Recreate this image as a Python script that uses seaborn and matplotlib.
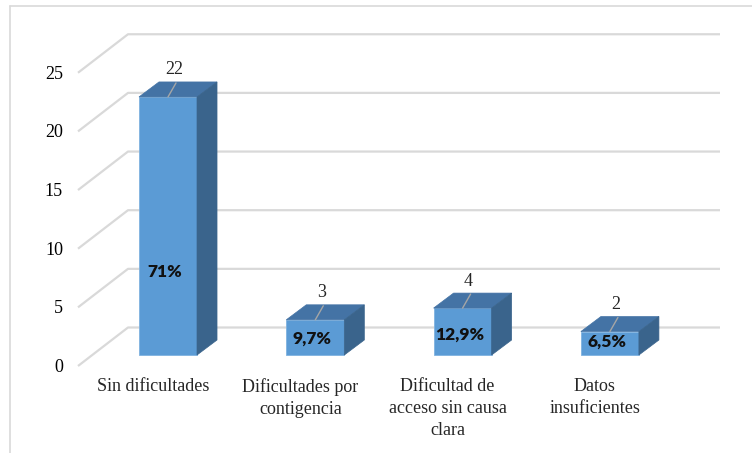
import pandas as pd
import matplotlib.pyplot as plt
import seaborn as sns
from matplotlib.patches import Polygon
from matplotlib.lines import Line2D


# chart data
categories = ["Sin dificultades", "Dificultades por\ncontigencia",
              "Dificultad de\nacceso sin causa\nclara", "Datos\ninsuficientes"]
counts = [22, 3, 4, 2]
pct_labels = ["71%", "9,7%", "12,9%", "6,5%"]
y_ticks = [0, 5, 10, 15, 20, 25]

# layout in pixels (figure is 752x453 at dpi 100)
W, H = 752, 453
px_unit = 11.73          # pixels per count
x0_px, step_px = 168, 147.3
base_px = 355            # pixel row of the bars' front base


def dx(px):
    return px / step_px


def dy(px):
    return px / px_unit


front = "#5B9BD5"
top_col = "#4473A5"
side_col = "#3A648C"
grid = "#d9d9d9"

sns.set_style("white")
plt.rcParams['font.family'] = ['Liberation Serif', 'DejaVu Serif']

fig = plt.figure(figsize=(W / 100, H / 100), dpi=100)
ax = fig.add_axes([0, 0, 1, 1])

df = pd.DataFrame({"cat": categories, "n": counts})
sns.barplot(data=df, x="cat", y="n", color=front, width=0.394,
            saturation=1, ax=ax, zorder=3, edgecolor="#7fb2e0", linewidth=0.6)
ax.set_xlim(-x0_px / step_px, (W - x0_px) / step_px)
ax.set_ylim(-(H - base_px) / px_unit, base_px / px_unit)
ax.axis("off")

# back wall gridlines + floor diagonals
x_front, x_back, x_right = dx(78 - x0_px), dx(128 - x0_px), dx(720 - x0_px)
off_front, off_back = dy(base_px - 366), dy(base_px - 327.5)
for v in y_ticks:
    ax.plot([x_front, x_back, x_right], [v + off_front, v + off_back, v + off_back],
            color=grid, lw=1.6, zorder=1, solid_capstyle="butt")
    ax.text(x_front - dx(15), v + off_front - dy(1.5), str(v), ha="right", va="center",
            fontsize=13, color="black")

# 3d faces of the bars
ddx, ddy = dx(20), dy(15)
for p, v, pct, cat in zip(ax.patches, counts, pct_labels, categories):
    x0 = p.get_x()
    x1 = x0 + p.get_width()
    cx = x0 + p.get_width() / 2
    t = p.get_height()
    ax.add_patch(Polygon([(x0, t), (x1, t), (x1 + ddx, t + ddy), (x0 + ddx, t + ddy)],
                         closed=True, facecolor=top_col, edgecolor=top_col, lw=0.5, zorder=4))
    ax.add_patch(Polygon([(x1, 0), (x1, t), (x1 + ddx, t + ddy), (x1 + ddx, ddy)],
                         closed=True, facecolor=side_col, edgecolor=side_col, lw=0.5, zorder=4))
    # value label with leader line
    ax.plot([cx, cx + dx(8)], [t, t + dy(14)], color="#a6a6a6", lw=1, zorder=5)
    ax.text(cx + dx(6), t + dy(27), str(v), ha="center", va="center", fontsize=13)
    # percentage label inside the bar
    ax.text(cx - dx(3), 0.3 * v + 0.5, pct, ha="center", va="center", fontsize=12.5,
            fontweight="heavy", family=["Lato", "DejaVu Sans"], color="#111111", zorder=6)
    # category label
    ax.text(cx - dx(15), dy(base_px - 378), cat, ha="center", va="top",
            fontsize=13, linespacing=1.4)

# chart frame
fig.add_artist(Line2D([10 / W, 10 / W], [0, 1 - 6 / H], color=grid, lw=1.2))
fig.add_artist(Line2D([10 / W, 1], [1 - 6 / H, 1 - 6 / H], color=grid, lw=1.2))

plt.savefig("out.png", dpi=100)
